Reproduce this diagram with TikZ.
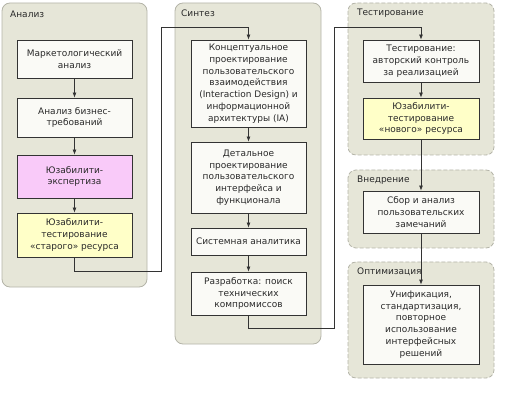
\documentclass[tikz,border=0pt]{standalone}
\usepackage{fontspec}
\setmainfont{DejaVu Sans}
\usetikzlibrary{arrows.meta}
\definecolor{panelfill}{HTML}{E6E6D8}
\definecolor{paneldraw}{HTML}{B4B4A8}
\definecolor{boxfill}{HTML}{FAFAF6}
\definecolor{pinkfill}{HTML}{F9CAF9}
\definecolor{yellowfill}{HTML}{FFFFC8}
\definecolor{linecol}{HTML}{333333}
\definecolor{textcol}{HTML}{2A2A2A}
\tikzset{
  panel/.style={draw=paneldraw, fill=panelfill, rounded corners=8pt, line width=0.8pt},
  dpanel/.style={panel, dash pattern=on 4pt off 2pt},
  ptitle/.style={anchor=west, inner sep=0pt, text=textcol, font=\fontsize{9}{11}\selectfont},
  stepbox/.style={draw=linecol, fill=boxfill, line width=0.8pt, align=center, inner sep=0pt,
    text=textcol, font=\fontsize{9}{11.8}\selectfont},
  arr/.style={draw=linecol, line width=0.8pt, -{Latex[length=5pt,width=4pt]}},
}
\begin{document}
\begin{tikzpicture}[x=1pt,y=-1pt]
\useasboundingbox (0,0) rectangle (512,409);
% panels
\draw[panel] (2,3) rectangle (147,287);
\draw[panel] (175,3) rectangle (321,344);
\draw[dpanel] (348,3) rectangle (494,155);
\draw[dpanel] (348,170) rectangle (494,248);
\draw[dpanel] (348,262) rectangle (494,378);
\node[ptitle] (tA) at (10,14) {Анализ};
\node[ptitle] (tS) at (181,13) {Синтез};
\node[ptitle] (tT) at (357,13) {Тестирование};
\node[ptitle] (tV) at (357,180) {Внедрение};
\node[ptitle] (tO) at (357,272) {Оптимизация};
% boxes
\node[stepbox, minimum width=115pt, minimum height=38pt] (A1) at (74.5,59) {Маркетологический\\анализ};
\node[stepbox, minimum width=115pt, minimum height=39pt] (A2) at (74.5,117.5) {Анализ бизнес-\\требований};
\node[stepbox, fill=pinkfill, minimum width=115pt, minimum height=43pt] (A3) at (74.5,176.5) {Юзабилити-\\экспертиза};
\node[stepbox, fill=yellowfill, minimum width=115pt, minimum height=44pt] (A4) at (74.5,235) {Юзабилити-\\тестирование\\«старого» ресурса};
\node[stepbox, minimum width=115pt, minimum height=87pt] (S1) at (248.5,83.5) {Концептуальное\\проектирование\\пользовательского\\взаимодействия\\(Interaction Design) и\\информационной\\архитектуры (IA)};
\node[stepbox, minimum width=115pt, minimum height=71pt] (S2) at (248.5,177.5) {Детальное\\проектирование\\пользовательского\\интерфейса и\\функционала};
\node[stepbox, minimum width=115pt, minimum height=27pt] (S3) at (248.5,241.5) {Системная аналитика};
\node[stepbox, minimum width=115pt, minimum height=43pt] (S4) at (248.5,293.5) {Разработка: поиск\\технических\\компромиссов};
\node[stepbox, minimum width=116pt, minimum height=42pt] (T1) at (421,61) {Тестирование:\\авторский контроль\\за реализацией};
\node[stepbox, fill=yellowfill, minimum width=116pt, minimum height=41pt] (T2) at (421,118.5) {Юзабилити-\\тестирование\\«нового» ресурса};
\node[stepbox, minimum width=116pt, minimum height=42pt] (V1) at (421,212) {Сбор и анализ\\пользовательских\\замечаний};
\node[stepbox, minimum width=116pt, minimum height=79pt] (O1) at (421,324.5) {Унификация,\\стандартизация,\\повторное\\использование\\интерфейсных\\решений};
% connector corners
\coordinate (k1) at (161,27);
\coordinate (k1b) at (161,271);
\coordinate (k2) at (334,27);
\coordinate (k2b) at (334,328);
% connectors
\draw[arr] (A1) -- (A2);
\draw[arr] (A2) -- (A3);
\draw[arr] (A3) -- (A4);
\draw[arr] (A4.south) |- (k1b) -- (k1) -| (S1.north);
\draw[arr] (S1) -- (S2);
\draw[arr] (S2) -- (S3);
\draw[arr] (S3) -- (S4);
\draw[arr] (S4.south) |- (k2b) -- (k2) -| (T1.north);
\draw[arr] (T1) -- (T2);
\draw[arr] (T2) -- (V1);
\draw[arr] (V1) -- (O1);
\end{tikzpicture}
\end{document}
